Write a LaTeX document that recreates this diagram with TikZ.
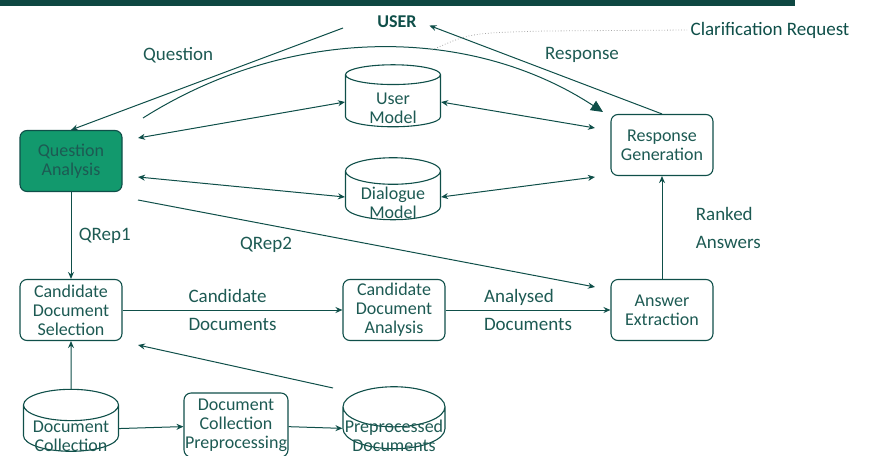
\documentclass[tikz,border=0pt]{standalone}
\usepackage{fontspec}
\setmainfont{Carlito}
\usetikzlibrary{shapes.geometric,arrows.meta,positioning}
\definecolor{qteal}{HTML}{0F4F49}
\definecolor{qtext}{HTML}{1D5A53}
\definecolor{qgreen}{HTML}{12996D}
\newcommand{\dbtext}[1]{\raisebox{-13pt}[0pt][0pt]{\begin{tabular}{@{}c@{}}#1\end{tabular}}}

\begin{document}
\begin{tikzpicture}[x=1pt,y=-1pt,font=\fontsize{18}{19}\selectfont,
       box/.style={draw=qteal,rounded corners=7pt,minimum width=102pt,minimum height=61pt,align=center,line width=1.1pt,text=qtext,inner sep=1pt},
       store/.style={draw=qteal,cylinder,shape border rotate=90,aspect=0.4,minimum width=95pt,minimum height=62pt,align=center,line width=1.1pt,text=qtext,inner sep=1pt},
       lbl/.style={text=qtext,font=\fontsize{19}{28}\selectfont,align=left},
       flow/.style={-{Stealth[length=7pt,width=6pt]},qteal,line width=1pt},
       both/.style={{Stealth[length=7pt,width=6pt]}-{Stealth[length=7pt,width=6pt]},qteal,line width=1pt}]
      \useasboundingbox (0,0) rectangle (869,455);
      \fill[qteal!90!black] (0,0) rectangle (795,6);
      % top row
      \node[text=qteal,font=\fontsize{18}{20}\selectfont\bfseries] (user) at (397,22) {USER};
      \node[text=qteal,font=\fontsize{19}{20}\selectfont] (clar) at (770,30) {Clarification Request};
      \node[box,fill=qgreen] (qa) at (71,161) {Question\\Analysis};
      \node[box] (rg) at (662,145) {Response\\Generation};
      \node[store] (um) at (393,102) {\dbtext{User\\Model}};
      \node[store] (dm) at (393,197) {\dbtext{Dialogue\\Model}};
      % middle row
      \node[box] (cds) at (71,310) {Candidate\\Document\\Selection};
      \node[box] (cda) at (394,310) {Candidate\\Document\\Analysis};
      \node[box] (ae) at (662,310) {Answer\\Extraction};
      % bottom row
      \node[store] (dc) at (71,430) {\dbtext{Document\\Collection}};
      \node[box,minimum height=64pt] (dcp) at (236,425) {Document\\Collection\\Preprocessing};
      \node[store,minimum width=102pt] (pd) at (394,430) {\dbtext{Preprocessed\\Documents}};
      % free ends
      \coordinate (qin) at (343,28);
      \coordinate (cstart) at (143,118);
      \coordinate (cend) at (603,112);
      \coordinate (dot) at (432,50);
      \coordinate (qa-um) at (138,138);
      \coordinate (qa-dm) at (138,177);
      \coordinate (qa-ae) at (138,200);
      \coordinate (rg-um) at (595,128);
      \coordinate (rg-dm) at (595,177);
      \coordinate (ae-in) at (595,287);
      \coordinate (pd-out) at (333,388);
      \coordinate (cds-in) at (138,345);
      \draw[flow] (qin) -- (qa.north) node[pos=0.4,xshift=-56pt,yshift=14pt,lbl]{Question};
      \draw[qteal,line width=1pt,-{Triangle[length=12pt,width=11pt]}] (cstart) .. controls (290,25) and (470,25) .. (cend);
      \draw[flow,shorten >=10pt] (rg.north) -- (user.east) node[pos=0.5,xshift=41pt,yshift=13pt,lbl]{Response};
      \draw[gray!70,dotted,line width=0.8pt] (dot) .. controls (470,33) .. (545,31) -- (clar.west);
      \draw[both] (qa-um) -- (um.west);
      \draw[both] (um.east) -- (rg-um);
      \draw[both] (qa-dm) -- (dm.west);
      \draw[both] (dm.east) -- (rg-dm);
      \draw[flow] (qa-ae) -- (ae-in) node[pos=0.28,below=9pt,lbl]{QRep2};
      \draw[flow] (qa) -- (cds) node[midway,right=4pt,lbl]{QRep1};
      \draw[flow] (cds) -- (cda) node[midway,lbl,align=left]{Candidate\\Documents};
      \draw[flow] (cda) -- (ae) node[midway,lbl,align=left]{Analysed\\Documents};
      \draw[flow] (ae) -- (rg) node[midway,right=30pt,lbl]{Ranked\\Answers};
      \draw[flow] (dc) -- (cds);
      \draw[flow] (dc) -- (dcp);
      \draw[flow] (dcp) -- (pd);
      \draw[flow] (pd-out) -- (cds-in);
    \end{tikzpicture}
\end{document}
